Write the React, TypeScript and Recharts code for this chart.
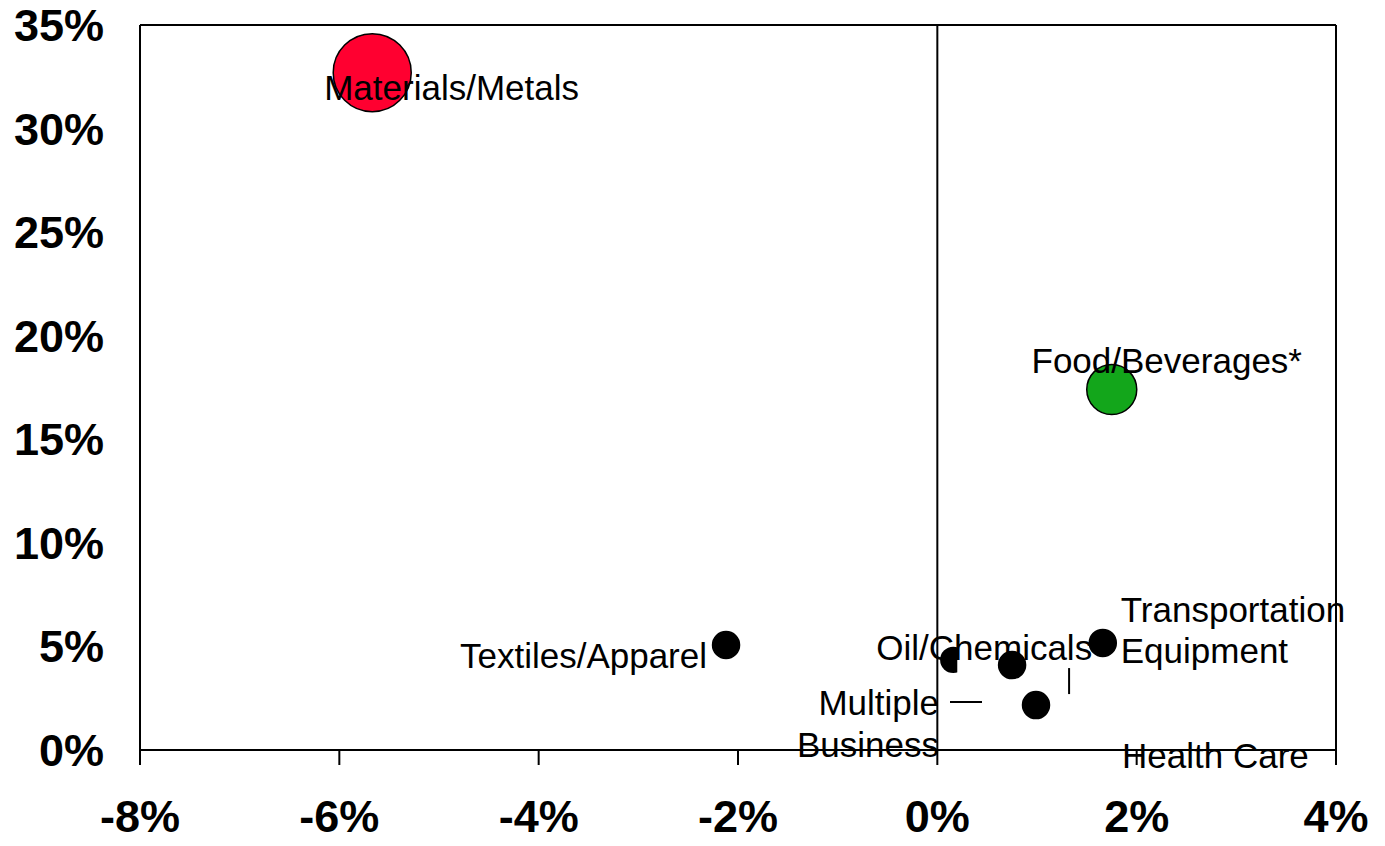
import React from 'react';
import { ScatterChart, Scatter, XAxis, YAxis, ReferenceLine } from 'recharts';

const sectors = [
  'Materials/Metals',
  'Food/Beverages*',
  'Textiles/Apparel',
  'Oil/Chemicals',
  'Health Care',
  'Multiple Business',
  'Transportation Equipment',
];
const growth = [-0.0567, 0.0175, -0.0212, 0.0016, 0.0075, 0.0099, 0.0166];
const returns = [0.327, 0.174, 0.0507, 0.0435, 0.041, 0.0217, 0.0517];
const bubbleSize = [8.35, 3.43, 1, 0.95, 1, 1, 1];

const xTicks = [-0.08, -0.06, -0.04, -0.02, 0, 0.02, 0.04];
const yTicks = [0, 0.05, 0.1, 0.15, 0.2, 0.25, 0.3, 0.35];

const data = sectors.map((name, i) => ({
  name,
  x: growth[i],
  y: returns[i],
  z: bubbleSize[i],
}));

const FONT = '"Liberation Sans", Arial, sans-serif';
const BASE_R = 13.5;
const LINE_W = 2;

const fills: Record<string, string> = {
  'Materials/Metals': '#ff0030',
  'Food/Beverages*': '#13a61b',
};

// label placement around each bubble: text lines (dx, dy of baseline), anchor, optional leader
type LabelSpec = {
  anchor: 'start' | 'middle' | 'end';
  dx: number;
  lines: { text: string; dy: number }[];
  leader?: [number, number, number, number];
  clipRight?: number;
};

const labelSpecs: Record<string, LabelSpec> = {
  'Materials/Metals': { anchor: 'start', dx: -48, lines: [{ text: 'Materials/Metals', dy: 27 }] },
  'Food/Beverages*': { anchor: 'middle', dx: 55, lines: [{ text: 'Food/Beverages*', dy: -17 }] },
  'Textiles/Apparel': { anchor: 'end', dx: -19, lines: [{ text: 'Textiles/Apparel', dy: 23 }] },
  'Oil/Chemicals': { anchor: 'start', dx: -77, lines: [{ text: 'Oil/Chemicals', dy: 0 }], clipRight: 4 },
  'Health Care': {
    anchor: 'start',
    dx: 110,
    lines: [{ text: 'Health Care', dy: 103 }],
    leader: [57, 3, 57, 29],
  },
  'Multiple Business': {
    anchor: 'end',
    dx: -97,
    lines: [
      { text: 'Multiple', dy: 10 },
      { text: 'Business', dy: 52 },
    ],
    leader: [-86, -3, -54, -3],
  },
  'Transportation Equipment': {
    anchor: 'start',
    dx: 18,
    lines: [
      { text: 'Transportation', dy: -21 },
      { text: 'Equipment', dy: 20 },
    ],
  },
};

const Bubble = (props: any) => {
  const { cx, cy, payload } = props;
  const r = BASE_R * Math.sqrt(payload.z);
  const fill = fills[payload.name] || '#000';
  const spec = labelSpecs[payload.name];
  if (spec && spec.clipRight !== undefined) {
    const id = 'clip-' + payload.name.replace(/[^a-z]/gi, '');
    return (
      <g>
        <defs>
          <clipPath id={id}>
            <rect x={cx - r - 2} y={cy - r - 2} width={r + 2 + spec.clipRight} height={2 * r + 4} />
          </clipPath>
        </defs>
        <circle cx={cx} cy={cy} r={r} fill={fill} clipPath={`url(#${id})`} />
      </g>
    );
  }
  return <circle cx={cx} cy={cy} r={r} fill={fill} stroke="#000" strokeWidth={1.5} />;
};

const BubbleLabel = (props: any) => {
  const { cx, cy, payload } = props;
  const spec = labelSpecs[payload.name];
  if (!spec) return <g />;
  return (
    <g>
      {spec.leader && (
        <line
          x1={cx + spec.leader[0]}
          y1={cy + spec.leader[1]}
          x2={cx + spec.leader[2]}
          y2={cy + spec.leader[3]}
          stroke="#000"
          strokeWidth={LINE_W}
        />
      )}
      {spec.lines.map((l) => (
        <text
          key={l.text}
          x={cx + spec.dx}
          y={cy + l.dy}
          textAnchor={spec.anchor}
          fontFamily={FONT}
          fontSize={35}
          fill="#000"
        >
          {l.text}
        </text>
      ))}
    </g>
  );
};

const pct = (v: number) => `${Math.round(v * 100)}%`;

export default function App() {
  return (
    <div style={{ position: 'absolute', left: 0, top: 0, background: '#fff' }}>
      <ScatterChart width={1385} height={846} margin={{ top: 25, right: 49, left: 0, bottom: 0 }}>
        <XAxis
          type="number"
          dataKey="x"
          domain={[-0.08, 0.04]}
          ticks={xTicks}
          interval={0}
          tickFormatter={pct}
          height={96}
          axisLine={{ stroke: '#000', strokeWidth: LINE_W }}
          tickLine={{ stroke: '#000', strokeWidth: LINE_W }}
          tickSize={15}
          tickMargin={35}
          tick={{ fill: '#000', fontSize: 45, fontWeight: 'bold', fontFamily: FONT }}
        />
        <YAxis
          type="number"
          dataKey="y"
          domain={[0, 0.35]}
          ticks={yTicks}
          interval={0}
          tickFormatter={pct}
          width={140}
          axisLine={{ stroke: '#000', strokeWidth: LINE_W }}
          tickLine={false}
          tickSize={0}
          tickMargin={36}
          tick={{ fill: '#000', fontSize: 45, fontWeight: 'bold', fontFamily: FONT }}
        />
        <ReferenceLine y={0.35} stroke="#000" strokeWidth={LINE_W} />
        <ReferenceLine x={0.04} stroke="#000" strokeWidth={LINE_W} />
        <ReferenceLine x={0} stroke="#000" strokeWidth={LINE_W} />
        <Scatter data={data} shape={Bubble} isAnimationActive={false} />
        <Scatter data={data} shape={BubbleLabel} isAnimationActive={false} />
      </ScatterChart>
    </div>
  );
}
